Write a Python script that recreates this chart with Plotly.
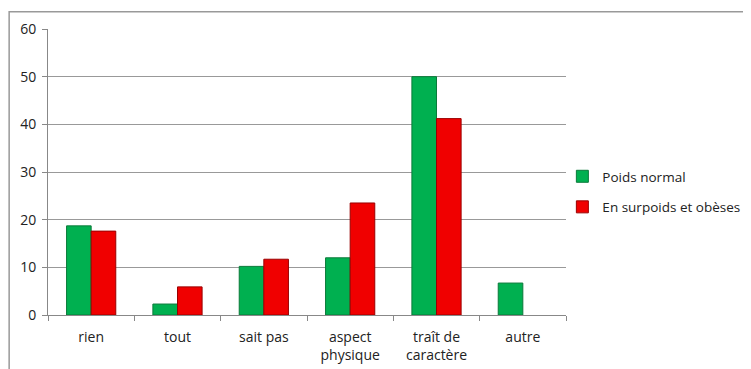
import plotly.graph_objects as go

# categories and values
categories = ["rien", "tout", "sait pas", "aspect<br>physique", "traît de<br>caractère", "autre"]
poids_normal = [18.7, 2.3, 10.2, 12.0, 50.0, 6.7]
surpoids = [17.6, 5.9, 11.7, 23.5, 41.2, 0]

fig = go.Figure()
fig.add_trace(go.Bar(
    x=categories, y=poids_normal, name="Poids normal", legendgroup="a",
    marker=dict(color="#00B050", line=dict(color="#0a7a3a", width=1))
))
fig.add_trace(go.Bar(
    x=categories, y=surpoids, name="En surpoids et obèses", legendgroup="b",
    marker=dict(color="#F00000",
                line=dict(color="#9a0000", width=[0 if v == 0 else 1 for v in surpoids]))
))

# the page body adds 8px on the left/top, so the figure is 743x361
fig.update_layout(
    width=743, height=361,
    margin=dict(l=40, r=185, t=21, b=54, autoexpand=False),
    paper_bgcolor="white", plot_bgcolor="white",
    barmode="group", bargap=0.43, bargroupgap=0,
    font=dict(family="Open Sans, Liberation Sans, sans-serif", size=14, color="#222"),
    legend=dict(x=0.993, y=0.43, xanchor="left", yanchor="middle",
                font=dict(size=13.5), itemwidth=30, tracegroupgap=10,
                bgcolor="rgba(0,0,0,0)"),
    showlegend=True,
)
fig.update_xaxes(
    automargin=False,
    showline=True, linecolor="#888", linewidth=1,
    ticks="outside", tickson="boundaries", ticklen=5, tickcolor="#888",
    ticklabelstandoff=9,
    showgrid=False,
)
fig.update_yaxes(
    automargin=False,
    range=[0, 60], dtick=10,
    showline=True, linecolor="#888", linewidth=1,
    ticks="outside", ticklen=5, tickcolor="#888",
    ticklabelstandoff=3,
    gridcolor="#999", gridwidth=1, zeroline=False,
)
# outer chart frame (left and top edges visible)
fig.add_shape(type="rect", xref="paper", yref="paper",
              x0=-0.075, x1=1.6, y0=-0.3, y1=1.06,
              line=dict(color="#999", width=1.5))
fig.write_html("out.html")
